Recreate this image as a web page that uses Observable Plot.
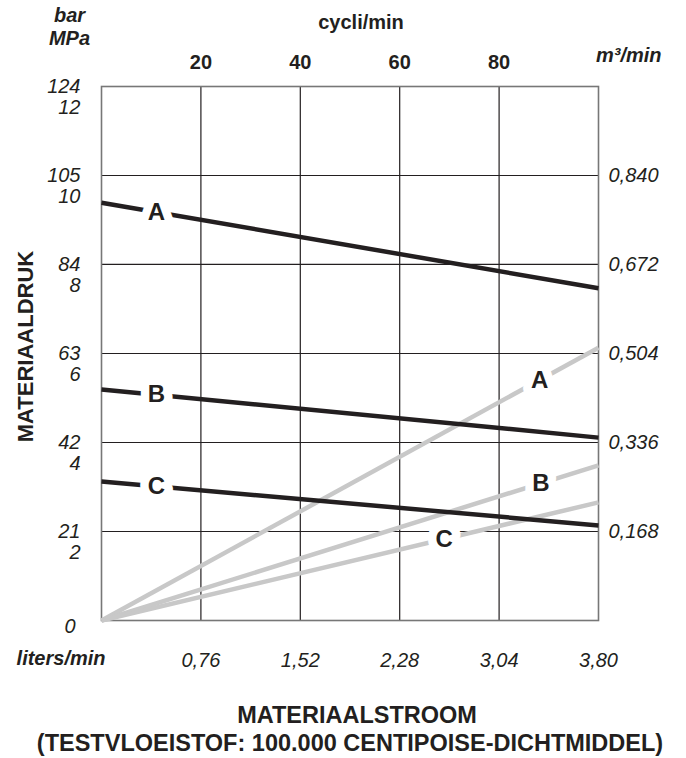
<!DOCTYPE html>
<html>
<head>
<meta charset="utf-8">
<script src="https://cdn.jsdelivr.net/npm/d3@7"></script>
<script src="https://cdn.jsdelivr.net/npm/@observablehq/plot@0.6"></script>
<style>
  html, body { margin: 0; padding: 0; background: #fff; }
  #chart svg { display: block; }
</style>
</head>
<body>
<div id="chart"></div>
<script>
// ---- data ----
const series = ["A", "B", "C"];
const flowRange = [0, 3.80];                 // liters/min (x extent)
const pressureStart = [97.1, 53.7, 32.3];    // bar at 0 l/min (black lines)
const pressureEnd   = [77.2, 42.5, 22.1];    // bar at 3,80 l/min
const outputEnd     = [0.515, 0.293, 0.223]; // m3/min at 3,80 l/min (grey lines, from 0)
const pressureLabelX = [0.42, 0.42, 0.42];   // where the letters sit on the black lines
const outputLabelX   = [3.35, 3.36, 2.62];   // where the letters sit on the grey lines

const xTicks      = [0.76, 1.52, 2.28, 3.04, 3.80];
const xTickLabels = ["0,76", "1,52", "2,28", "3,04", "3,80"];
const cycleTicks  = [0.76, 1.52, 2.28, 3.04];
const cycleLabels = ["20", "40", "60", "80"];
const gridBar     = [20.68, 41.37, 62.05, 82.74, 103.42, 124.1]; // 300 psi steps
const barLabels   = ["21", "42", "63", "84", "105", "124"];
const mpaLabels   = ["2", "4", "6", "8", "10", "12"];
const m3Ticks     = [0.168, 0.336, 0.504, 0.672, 0.840];
const m3Labels    = ["0,168", "0,336", "0,504", "0,672", "0,840"];

// ---- tables built from the arrays ----
const barPerM3 = gridBar[0] / m3Ticks[0];
const pressureData = series.flatMap((s, i) => [
  {s, x: flowRange[0], y: pressureStart[i]},
  {s, x: flowRange[1], y: pressureEnd[i]}
]);
const outputData = series.flatMap((s, i) => [
  {s, x: flowRange[0], y: 0},
  {s, x: flowRange[1], y: outputEnd[i] * barPerM3}
]);
const pressureLabels = series.map((s, i) => ({
  s, x: pressureLabelX[i],
  y: pressureStart[i] + (pressureEnd[i] - pressureStart[i]) * pressureLabelX[i] / flowRange[1]
}));
const outputLabels = series.map((s, i) => ({
  s, x: outputLabelX[i],
  y: outputEnd[i] * barPerM3 * outputLabelX[i] / flowRange[1]
}));

const ink = "#231f20";
const font = "'Liberation Sans', Arial, Helvetica, sans-serif";
const tickFs = 20;

const chart = Plot.plot({
  width: 686,
  height: 758,
  marginLeft: 101,
  marginRight: 88,
  marginTop: 86,
  marginBottom: 138,
  x: {domain: flowRange},
  y: {domain: [0, gridBar[gridBar.length - 1]]},
  style: {fontFamily: font, background: "#fff", color: ink},
  marks: [
    Plot.gridX(cycleTicks, {stroke: ink, strokeOpacity: 1, strokeWidth: 1.2}),
    Plot.gridY(gridBar.slice(0, 5), {stroke: ink, strokeOpacity: 1, strokeWidth: 1.2}),
    Plot.frame({stroke: "#777", strokeWidth: 1.6}),
    Plot.line(outputData, {x: "x", y: "y", z: "s", stroke: "#c8c8c8", strokeWidth: 4.5, strokeLinecap: "butt"}),
    Plot.line(pressureData, {x: "x", y: "y", z: "s", stroke: ink, strokeWidth: 4.5, strokeLinecap: "butt"}),
    Plot.text(outputLabels, {x: "x", y: "y", text: "s", fill: ink, stroke: "#fff", strokeWidth: 17,
      fontSize: 24, fontWeight: "bold", textAnchor: "middle", lineAnchor: "middle"}),
    Plot.text(pressureLabels, {x: "x", y: "y", text: "s", fill: ink, stroke: "#fff", strokeWidth: 17,
      fontSize: 24, fontWeight: "bold", textAnchor: "middle", lineAnchor: "middle"}),

    // bottom axis (liters/min)
    Plot.axisX(xTicks, {anchor: "bottom", tickSize: 0, tickPadding: 32, label: null,
      tickFormat: d => xTickLabels[xTicks.indexOf(d)], fontSize: tickFs, fontStyle: "italic", fill: ink}),
    // top axis (cycli/min)
    Plot.axisX(cycleTicks, {anchor: "top", tickSize: 0, tickPadding: 18, label: null,
      tickFormat: d => cycleLabels[cycleTicks.indexOf(d)], fontSize: tickFs, fontWeight: "bold", fill: ink}),
    // left axis: bar
    Plot.axisY(gridBar, {anchor: "left", tickSize: 0, tickPadding: 21, label: null,
      tickFormat: d => barLabels[gridBar.indexOf(d)], fontSize: tickFs, fontStyle: "italic", fill: ink}),
    // left axis: MPa (second line under each bar value)
    Plot.axisY(gridBar, {anchor: "left", tickSize: 0, tickPadding: 21, label: null, dy: 21,
      tickFormat: d => mpaLabels[gridBar.indexOf(d)], fontSize: tickFs, fontStyle: "italic", fill: ink}),
    // left axis: zero
    Plot.axisY([0], {anchor: "left", tickSize: 0, tickPadding: 26, label: null, dy: 6,
      tickFormat: () => "0", fontSize: tickFs, fontStyle: "italic", fill: ink}),
    // right axis: m3/min
    Plot.axisY(gridBar.slice(0, 5), {anchor: "right", tickSize: 0, tickPadding: 10, label: null,
      tickFormat: d => m3Labels[gridBar.indexOf(d)], fontSize: tickFs, fontStyle: "italic", fill: ink}),

    // axis titles
    Plot.text(["cycli/min"], {frameAnchor: "top", dx: 11, dy: -64, lineAnchor: "middle", textAnchor: "middle",
      fontSize: 20, fontWeight: "bold", fill: ink}),
    Plot.text(["m\u00b3/min"], {frameAnchor: "top-right", dx: 63, dy: -31, lineAnchor: "middle", textAnchor: "end",
      fontSize: 20, fontWeight: "bold", fontStyle: "italic", fill: ink}),
    Plot.text(["bar"], {frameAnchor: "top-left", dx: -32, dy: -71, lineAnchor: "middle", textAnchor: "middle",
      fontSize: 20, fontWeight: "bold", fontStyle: "italic", fill: ink}),
    Plot.text(["MPa"], {frameAnchor: "top-left", dx: -32, dy: -48, lineAnchor: "middle", textAnchor: "middle",
      fontSize: 20, fontWeight: "bold", fontStyle: "italic", fill: ink}),
    Plot.text(["liters/min"], {frameAnchor: "bottom-left", dx: 4, dy: 38, lineAnchor: "middle", textAnchor: "end",
      fontSize: 20, fontWeight: "bold", fontStyle: "italic", fill: ink}),
    Plot.text(["MATERIAALDRUK"], {frameAnchor: "left", dx: -76, dy: -7, rotate: -90, lineAnchor: "middle",
      textAnchor: "middle", fontSize: 22, fontWeight: "bold", fill: ink}),
    Plot.text(["MATERIAALSTROOM"], {frameAnchor: "bottom", dx: 7, dy: 95, lineAnchor: "middle",
      textAnchor: "middle", fontSize: 23.5, fontWeight: "bold", fill: ink}),
    Plot.text(["(TESTVLOEISTOF: 100.000 CENTIPOISE-DICHTMIDDEL)"], {frameAnchor: "bottom", dx: 0, dy: 123,
      lineAnchor: "middle", textAnchor: "middle", fontSize: 23.5, fontWeight: "bold", fill: ink})
  ]
});
document.getElementById("chart").appendChild(chart);
</script>
</body>
</html>
